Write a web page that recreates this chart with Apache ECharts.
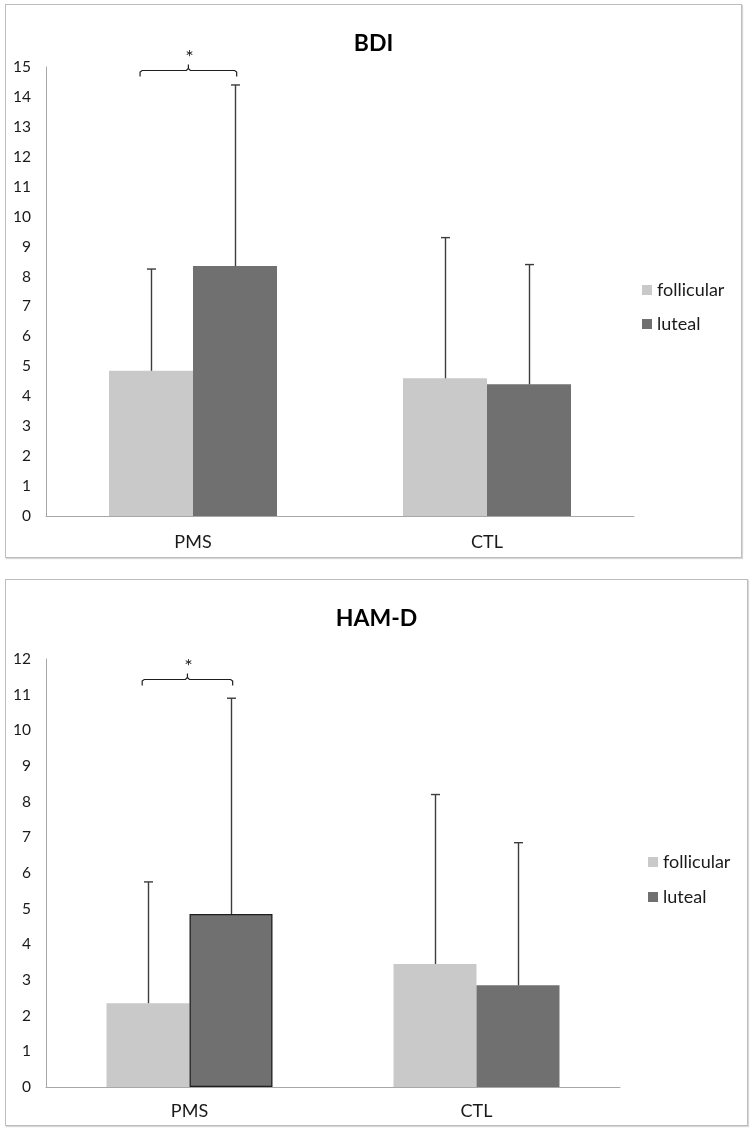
<!DOCTYPE html>
<html>
<head>
<meta charset="utf-8">
<script src="https://cdn.jsdelivr.net/npm/echarts@6/dist/echarts.min.js"></script>
<style>
  html, body { margin: 0; padding: 0; background: #fff; width: 752px; height: 1130px; overflow: hidden; }
  .box { position: absolute; box-sizing: border-box; border: 1px solid #bdbdbd; box-shadow: 1px 1px 1px #d8d8d8; background: #fff; }
  #c1 { left: 5px; top: 4px; width: 737px; height: 554px; }
  #c2 { left: 5px; top: 579px; width: 743px; height: 547px; }
</style>
</head>
<body>
<div id="c1" class="box"></div>
<div id="c2" class="box"></div>
<script>
// ---- data ----
const categories = ['PMS', 'CTL'];
const seriesNames = ['follicular', 'luteal'];

// BDI
const bdiFollicular = [4.85, 4.6];
const bdiLuteal = [8.35, 4.4];
const bdiFollicularErrTop = [8.25, 9.3];
const bdiLutealErrTop = [14.4, 8.4];
const bdiTicks = [0, 15, 1];      // min, max, interval
const bdiBracketLevel = 14.9;

// HAM-D
const hamFollicular = [2.35, 3.45];
const hamLuteal = [4.85, 2.85];
const hamFollicularErrTop = [5.75, 8.2];
const hamLutealErrTop = [10.9, 6.85];
const hamTicks = [0, 12, 1];
const hamBracketLevel = 11.45;

const FONT = 'Lato, "Open Sans", "Noto Sans", sans-serif';
const COL_F = '#c9c9c9';
const COL_L = '#707070';
const ERR_COL = '#3c3c3c';

function buildOption(cfg) {
  const bw = cfg.barWidth;
  const errData = [];
  cfg.foll.forEach((v, i) => errData.push([i, v, cfg.follTop[i], -1]));
  cfg.lut.forEach((v, i) => errData.push([i, v, cfg.lutTop[i], 1]));

  const lutData = cfg.lut.map((v, i) => {
    if (cfg.borderIdx === i) {
      return { value: v, itemStyle: { borderColor: '#1e1e1e', borderWidth: 1.3 } };
    }
    return v;
  });

  return {
    animation: false,
    textStyle: { fontFamily: FONT },
    title: {
      text: cfg.title,
      left: 'center',
      top: 22,
      textStyle: { fontFamily: FONT, fontSize: 23, fontWeight: 'bold', color: '#000' }
    },
    legend: {
      data: seriesNames,
      orient: 'vertical',
      left: cfg.legendLeft,
      top: cfg.legendTop,
      itemWidth: 10,
      itemHeight: 10,
      itemGap: cfg.legendGap,
      icon: 'rect',
      textStyle: { fontFamily: FONT, fontSize: 18, color: '#1a1a1a', lineHeight: 20 }
    },
    grid: { left: 40, top: cfg.gridTop, width: cfg.gridWidth, height: cfg.gridHeight },
    xAxis: {
      type: 'category',
      data: categories,
      axisLine: { lineStyle: { color: '#a8a8a8', width: 1 } },
      axisTick: { show: false },
      axisLabel: { fontFamily: FONT, fontSize: 18, color: '#1a1a1a', margin: cfg.xMargin }
    },
    yAxis: {
      type: 'value',
      min: cfg.ticks[0],
      max: cfg.ticks[1],
      interval: cfg.ticks[2],
      axisLine: { show: true, lineStyle: { color: '#a8a8a8', width: 1 } },
      axisTick: { show: false },
      splitLine: { show: false },
      axisLabel: { fontFamily: FONT, fontSize: 15.5, color: '#1a1a1a', margin: 15 }
    },
    series: [
      {
        name: seriesNames[0], type: 'bar', data: cfg.foll,
        barWidth: bw, barGap: '0%', itemStyle: { color: COL_F }
      },
      {
        name: seriesNames[1], type: 'bar', data: lutData,
        barWidth: bw, barGap: '0%', itemStyle: { color: COL_L }
      },
      {
        type: 'custom', z: 5, silent: true,
        data: errData,
        encode: { x: 0, y: 2 },
        renderItem: function (params, api) {
          const cat = api.value(0), v = api.value(1), e = api.value(2), side = api.value(3);
          const p0 = api.coord([cat, v]);
          const p1 = api.coord([cat, e]);
          const x = Math.round(p0[0] + side * bw / 2) + 0.5;
          const st = { stroke: ERR_COL, lineWidth: 1.4 };
          return {
            type: 'group',
            children: [
              { type: 'line', shape: { x1: x, y1: p0[1], x2: x, y2: p1[1] }, style: st },
              { type: 'line', shape: { x1: x - 4.5, y1: p1[1], x2: x + 4.5, y2: p1[1] }, style: st }
            ]
          };
        }
      },
      {
        type: 'custom', z: 6, silent: true,
        data: [[0, cfg.bracketLevel]],
        renderItem: function (params, api) {
          const p = api.coord([api.value(0), api.value(1)]);
          const xl = p[0] - bw * cfg.bracketL;
          const xr = p[0] + bw * cfg.bracketR;
          const xm = (xl + xr) / 2;
          const y = Math.round(p[1]) + 0.5;
          const st = { stroke: '#1e1e1e', lineWidth: 1.2, fill: null };
          return {
            type: 'group',
            children: [
              { type: 'polyline', shape: { points: [[xl, y + 6], [xl, y + 1.5], [xl + 2, y], [xm - 2, y], [xm, y - 2], [xm, y - 6]] }, style: st },
              { type: 'polyline', shape: { points: [[xm, y - 2], [xm + 2, y], [xr - 2, y], [xr, y + 1.5], [xr, y + 6]] }, style: st },
              { type: 'text', style: { text: '*', x: xm + 1, y: y - 3, align: 'center', verticalAlign: 'bottom', font: '20px ' + FONT, fill: '#1e1e1e' } }
            ]
          };
        }
      }
    ]
  };
}

const chart1 = echarts.init(document.getElementById('c1'), null, { renderer: 'canvas' });
chart1.setOption(buildOption({
  title: 'BDI',
  foll: bdiFollicular, lut: bdiLuteal,
  follTop: bdiFollicularErrTop, lutTop: bdiLutealErrTop,
  ticks: bdiTicks, bracketLevel: bdiBracketLevel,
  barWidth: 84, borderIdx: -1,
  gridTop: 62, gridWidth: 588, gridHeight: 449,
  legendLeft: 631, legendTop: 270, legendGap: 14,
  xMargin: 17, bracketL: 0.63, bracketR: 0.52
}));

const chart2 = echarts.init(document.getElementById('c2'), null, { renderer: 'canvas' });
chart2.setOption(buildOption({
  title: 'HAM-D',
  foll: hamFollicular, lut: hamLuteal,
  follTop: hamFollicularErrTop, lutTop: hamLutealErrTop,
  ticks: hamTicks, bracketLevel: hamBracketLevel,
  barWidth: 83, borderIdx: 0,
  gridTop: 79, gridWidth: 574, gridHeight: 428,
  legendLeft: 637, legendTop: 267, legendGap: 15,
  xMargin: 15, bracketL: 0.57, bracketR: 0.52
}));
</script>
</body>
</html>
